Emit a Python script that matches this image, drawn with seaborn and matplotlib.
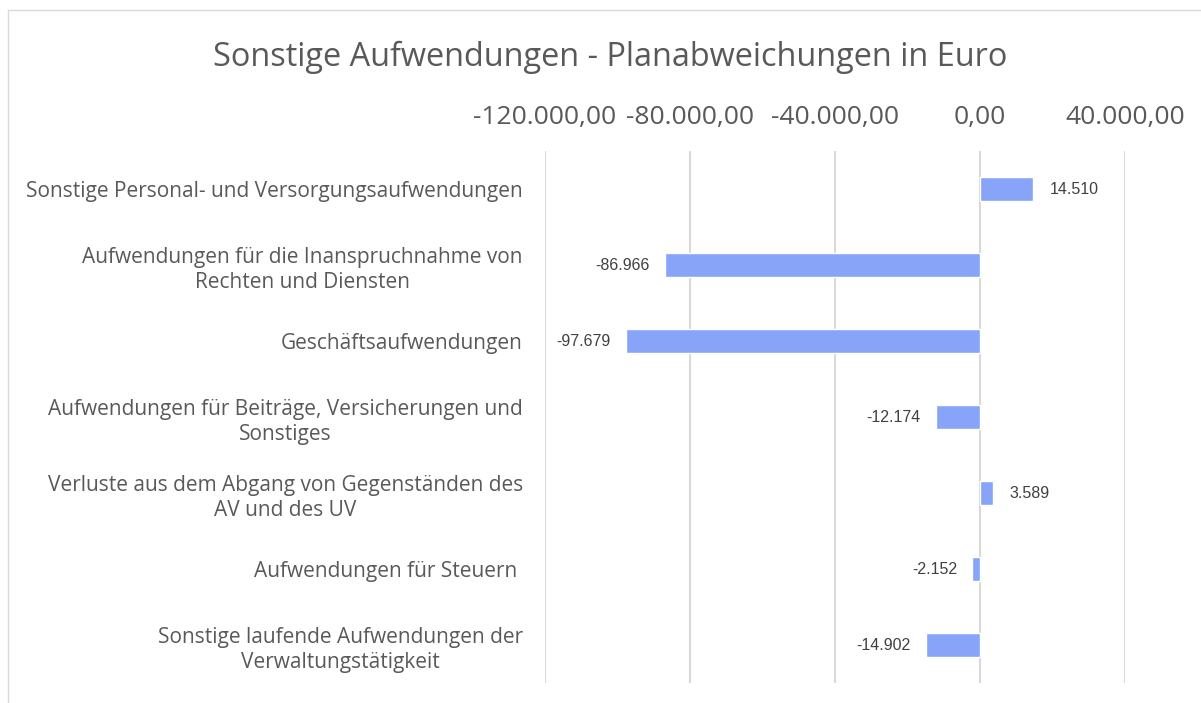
import numpy as np
import pandas as pd
import matplotlib
matplotlib.use("Agg")
import matplotlib.pyplot as plt
import seaborn as sns

categories = [
    "Sonstige Personal- und Versorgungsaufwendungen",
    "Aufwendungen für die Inanspruchnahme von\nRechten und Diensten",
    "Geschäftsaufwendungen",
    "Aufwendungen für Beiträge, Versicherungen und\nSonstiges",
    "Verluste aus dem Abgang von Gegenständen des\nAV und des UV",
    "Aufwendungen für Steuern ",
    "Sonstige laufende Aufwendungen der\nVerwaltungstätigkeit",
]
values = [14510, -86966, -97679, -12174, 3589, -2152, -14902]
xticks = [-120000, -80000, -40000, 0, 40000]
xtick_labels = ["-120.000,00", "-80.000,00", "-40.000,00", "0,00", "40.000,00"]

df = pd.DataFrame({"kategorie": categories, "wert": values})

sns.set_theme(style="white")
plt.rcParams["font.family"] = ["Open Sans", "DejaVu Sans"]
text_col = "#595959"

fig = plt.figure(figsize=(12.01, 7.03), dpi=100)
W, H = 1201, 703
ax = fig.add_axes([545 / W, 1 - 683 / H, (1125 - 545) / W, (683 - 151) / H])

sns.barplot(data=df, y="kategorie", x="wert", orient="h", color="#88A4F8",
            saturation=1, width=0.31, ax=ax)

ax.set_xlim(-120000, 40000)
ax.set_xticks(xticks)
ax.set_xticklabels(xtick_labels, fontsize=19, color=text_col)
ax.xaxis.tick_top()
ax.tick_params(axis="x", length=0, pad=15)
ax.tick_params(axis="y", length=0, pad=16)
for lab in ax.get_yticklabels():
    lab.set_fontsize(15)
    lab.set_color(text_col)
    lab.set_multialignment("center")
    lab.set_linespacing(1.3)
ax.set_xlabel("")
ax.set_ylabel("")
ax.grid(axis="x", color="#D9D9D9", linewidth=1.5)
ax.set_axisbelow(True)
for s in ax.spines.values():
    s.set_visible(False)

for i, v in enumerate(values):
    txt = f"{v:,}".replace(",", ".")
    if v >= 0:
        ax.annotate(txt, (v, i), xytext=(12, 0), textcoords="offset points",
                    ha="left", va="center", fontsize=11.5, color="#404040",
                    family="Liberation Sans")
    else:
        ax.annotate(txt, (v, i), xytext=(-11, 0), textcoords="offset points",
                    ha="right", va="center", fontsize=11.5, color="#404040",
                    family="Liberation Sans")

fig.text(610 / W, 1 - 57 / H, "Sonstige Aufwendungen - Planabweichungen in Euro",
         ha="center", va="center", fontsize=23.4, color=text_col)

# chart border (top and left visible)
fig.add_artist(plt.Line2D([8 / W, 8 / W], [0, 1 - 10 / H], transform=fig.transFigure,
                          color="#D9D9D9", linewidth=1))
fig.add_artist(plt.Line2D([8 / W, 1], [1 - 10 / H, 1 - 10 / H], transform=fig.transFigure,
                          color="#D9D9D9", linewidth=1))

fig.savefig("out.png", dpi=100)
